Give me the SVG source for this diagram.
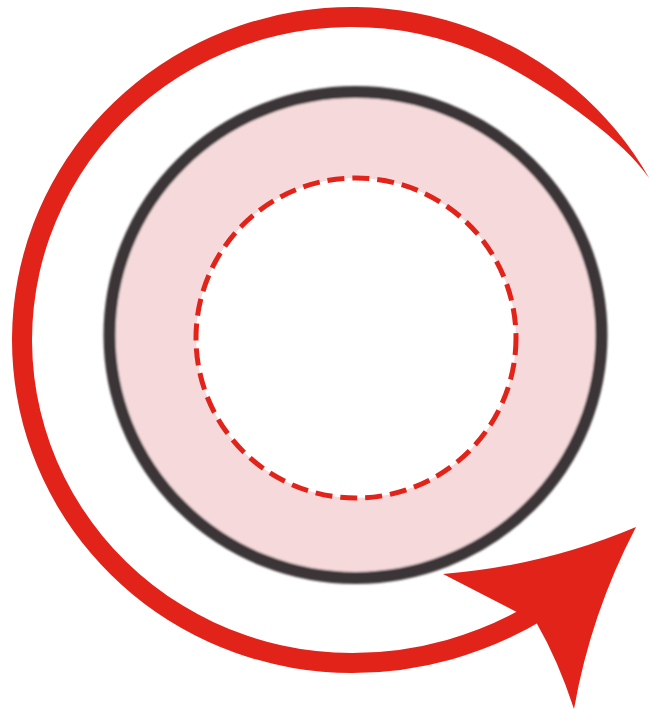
<svg xmlns="http://www.w3.org/2000/svg" width="651" height="710" viewBox="0 0 651 710">
  <style>
    .red { fill: #e2231a; }
    .ring { fill: #f6dadb; stroke: #3b3537; stroke-width: 12; }
    .inner { fill: #ffffff; stroke: #e2231a; stroke-width: 5; stroke-dasharray: 17 8; }
  </style>
  <defs>
    <filter id="soft" x="-10%" y="-10%" width="120%" height="120%">
      <feGaussianBlur stdDeviation="1.3"/>
    </filter>
  </defs>
  <rect width="651" height="710" fill="#ffffff"/>
  <g id="ring">
    <ellipse class="ring" cx="355.5" cy="335" rx="246" ry="243" filter="url(#soft)"/>
  </g>
  <g id="core">
    <circle class="inner" cx="356" cy="338" r="160"/>
  </g>
  <g id="connectors">
    <path class="red" d="M649.4,178.6 A340,333 0 1 0 352,673 A370,370 0 0 0 545,618.7 L534.6,601.6 A350,350 0 0 1 352,653 A320,313 0 1 1 487.2,56.3 C537.3,79.1 621.9,136.8 649.4,178.6 Z"/>
    <path class="red" d="M443,574 Q543.3,566.1 636,527 Q590.8,613.4 574,709 Q558,660 536,622 Z"/>
  </g>
</svg>
